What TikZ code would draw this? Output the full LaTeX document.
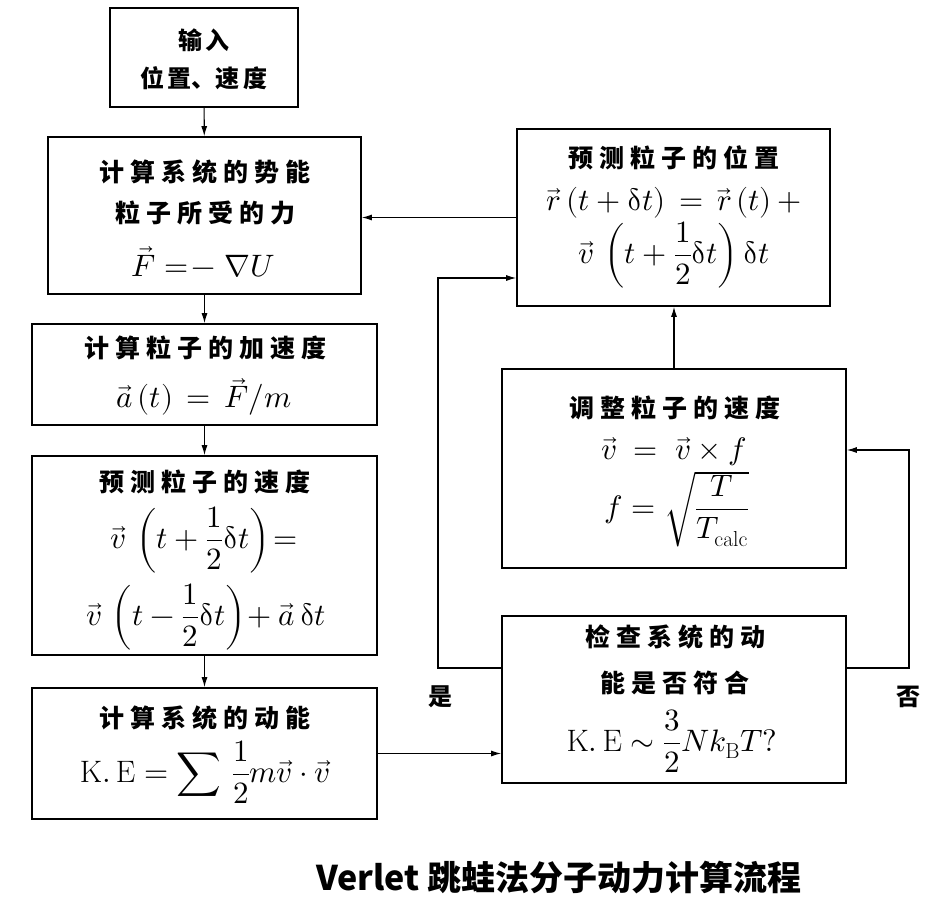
\documentclass[tikz,border=0pt]{standalone}
\usepackage{amsmath}
\usepackage{unicode-math}
\setmathfont{Latin Modern Math}
\usetikzlibrary{arrows.meta}
\newfontfamily\cjk[LetterSpace=24]{Noto Sans CJK SC}
\newfontfamily\cjkplain{Noto Sans CJK SC}
\tikzset{
  fbox/.style={draw, line width=1.7pt, inner sep=0pt},
  crow/.style={inner sep=0pt, font=\cjk\bfseries\fontsize{25}{28}\selectfont},
  mrow/.style={inner sep=0pt, font=\fontsize{31}{36}\selectfont},
  conn/.style={line width=1.1pt, -{Latex[length=10pt,width=6pt]}},
  lbl/.style={inner sep=0pt, font=\cjkplain\bfseries\fontsize{24}{26}\selectfont},
}
\begin{document}
\begin{tikzpicture}[x=1pt,y=-1pt]
\useasboundingbox[fill=white] (0,0) rectangle (928,900);
% ---------- boxes ----------
\node[fbox, minimum width=188pt, minimum height=99pt] (in) at (204,57.5) {};
\node[fbox, minimum width=313pt, minimum height=157pt] (b2) at (204.5,215.5) {};
\node[fbox, minimum width=345pt, minimum height=101pt] (b3) at (204.5,374.5) {};
\node[fbox, minimum width=345pt, minimum height=199pt] (b4) at (204.5,555.5) {};
\node[fbox, minimum width=345pt, minimum height=131pt] (b5) at (204.5,753.5) {};
\node[fbox, minimum width=313pt, minimum height=177pt] (b6) at (673.5,217.5) {};
\node[fbox, minimum width=344pt, minimum height=199pt] (b7) at (674,468.5) {};
\node[fbox, minimum width=344pt, minimum height=167pt] (b8) at (674,699.5) {};
% ---------- texts ----------
\node[lbl] (t1a) at (204,40) {输\,入};
\node[lbl] (t1b) at (204,78) {位\,置、速\,度};
\node[crow] (t2a) at (205,172) {计算系统的势能};
\node[crow] (t2b) at (205,213) {粒子所受的力};
\node[mrow] (t2c) at (203,262) {$\vec F=\!-\;\nabla U$};
\node[crow] (t3a) at (205,348) {计算粒子的加速度};
\node[mrow] (t3b) at (204,397) {$\vec a\,(t)\,=\,\vec F/m$};
\node[crow] (t4a) at (205,482) {预测粒子的速度};
\node[mrow] (t4b) at (204,540) {$\vec v\,\left(t+\dfrac12\updelta t\right)\!=$};
\node[mrow] (t4c) at (206,617) {$\vec v\,\left(t-\dfrac12\updelta t\right)\!+\vec a\,\updelta t$};
\node[crow] (t5a) at (205,718) {计算系统的动能};
\node[mrow] (t5b) at (205,772) {$\mathrm{K.\,E}=\displaystyle\sum\,\dfrac12 m\vec v\cdot\vec v$};
\node[crow] (t6a) at (674,158) {预测粒子的位置};
\node[mrow] (t6b) at (674,203) {$\vec r\,(t+\updelta t)\,=\,\vec r\,(t)\,+$};
\node[mrow] (t6c) at (674,255) {$\vec v\,\left(t+\dfrac12\updelta t\right)\updelta t$};
\node[crow] (t7a) at (675,408) {调整粒子的速度};
\node[mrow] (t7b) at (674,452) {$\vec v\;=\;\vec v\times f$};
\node[mrow] (t7c) at (677,509) {$f=\sqrt{\dfrac{T}{T_{\mathrm{calc}}}}$};
\node[crow] (t8a) at (675,637) {检查系统的动};
\node[crow] (t8b) at (675,683) {能是否符合};
\node[mrow] (t8c) at (672,741) {$\mathrm{K.\,E}\sim\dfrac32 Nk_{\mathrm B}T?$};
% labels
\node[lbl] (yes) at (440,697) {是};
\node[lbl] (no) at (908,697) {否};
\node[font=\cjkplain\bfseries\fontsize{34}{38}\selectfont] (cap) at (559,877)
  {Verlet 跳蛙法分子动力计算流程};
% ---------- connectors ----------
\draw[conn] (in) -- (b2);
\draw[conn] (b2) -- (b3);
\draw[conn] (b3) -- (b4);
\draw[conn] (b4) -- (b5);
\draw[conn] (b5.east) -- (b8.west |- b5.east);
\draw[conn] (b6.west) -- (b2.east |- b6.west);
\draw[conn] (b7.north) -- (b7.north |- b6.south);
\coordinate (yl) at (438,668);
\coordinate (yt) at (438,278);
\draw[conn] (b8.west |- yl) -- (yl) -- (yt) -- (b6.west |- yt);
\coordinate (nl) at (909,668);
\coordinate (nt) at (909,450);
\draw[conn] (b8.east |- nl) -- (nl) -- (nt) -- (b7.east |- nt);
\end{tikzpicture}
\end{document}
